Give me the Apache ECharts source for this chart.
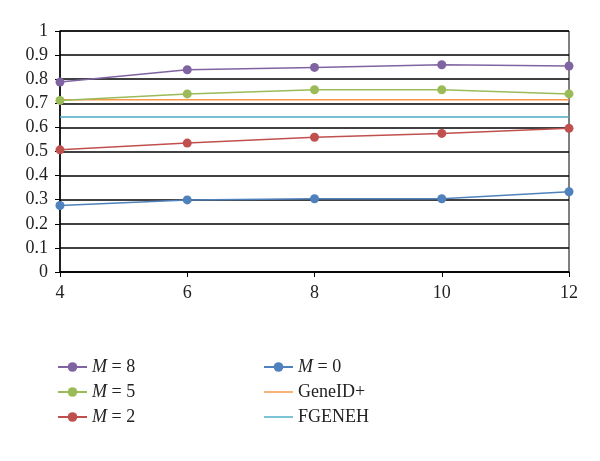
<!DOCTYPE html>
<html><head><meta charset="utf-8">
<script src="https://cdn.jsdelivr.net/npm/echarts@6/dist/echarts.min.js"></script>
<style>html,body{margin:0;padding:0;background:#fff}#c{width:600px;height:461px}</style>
</head><body><div id="c"></div>
<script>
const xValues = [4, 6, 8, 10, 12];
const m8 = [0.788, 0.839, 0.849, 0.860, 0.855];
const m5 = [0.712, 0.739, 0.756, 0.756, 0.739];
const m2 = [0.507, 0.535, 0.559, 0.575, 0.596];
const m0 = [0.276, 0.299, 0.304, 0.304, 0.333];
const geneid = [0.715, 0.715, 0.715, 0.715, 0.715];
const fgeneh = [0.643, 0.643, 0.643, 0.643, 0.643];
const names = ['M = 8', 'M = 5', 'M = 2', 'M = 0', 'GeneID+', 'FGENEH'];
const colors = ['#8064A2', '#9BBB59', '#C0504D', '#4F81BD', '#F79646', '#4BACC6'];
const allData = [m8, m5, m2, m0, geneid, fgeneh];
const font = '"Liberation Serif", "DejaVu Serif", serif';

const chart = echarts.init(document.getElementById('c'));
const series = allData.map((d, i) => ({
  name: names[i],
  type: 'line',
  data: xValues.map((x, j) => [x, d[j]]),
  symbol: i < 4 ? 'circle' : 'none',
  symbolSize: 9,
  showSymbol: i < 4,
  lineStyle: { color: colors[i], width: 1.5 },
  itemStyle: { color: colors[i] },
  z: 10 - i
}));
const lineIcon = 'path://M0,0 L30,0 L30,1.5 L0,1.5 Z';
const legendItems = names.map((n, i) => i < 4 ? { name: n } : { name: n, icon: lineIcon });
const legendFmt = n => n.startsWith('M') ? '{i|M}' + n.slice(1) : n;
const legendText = { fontFamily: font, fontSize: 18, color: '#222', rich: { i: { fontFamily: font, fontSize: 18, fontStyle: 'italic', color: '#222' } } };
chart.setOption({
  animation: false,
  grid: { left: 60, right: 31, top: 31, bottom: 189, show: true, borderColor: '#000', borderWidth: 1 },
  xAxis: {
    type: 'value', min: 4, max: 12, interval: 2,
    axisLine: { lineStyle: { color: '#000', width: 1.5 } },
    axisTick: { show: true, length: 5, lineStyle: { color: '#000' } },
    axisLabel: { fontFamily: font, fontSize: 18, color: '#222', margin: 12 },
    splitLine: { show: false }
  },
  yAxis: {
    type: 'value', min: 0, max: 1, interval: 0.1,
    axisLine: { show: true, lineStyle: { color: '#000', width: 1.5 } },
    axisTick: { show: true, length: 5, lineStyle: { color: '#000' } },
    axisLabel: { fontFamily: font, fontSize: 18, color: '#222', margin: 12, formatter: v => String(Math.round(v * 10) / 10) },
    splitLine: { show: true, lineStyle: { color: '#000', width: 1.5 } }
  },
  legend: [
    { data: legendItems.slice(0, 3), orient: 'vertical', left: 52, top: 353, itemGap: 7, itemWidth: 29, itemHeight: 12, formatter: legendFmt, textStyle: legendText },
    { data: legendItems.slice(3), orient: 'vertical', left: 258, top: 353, itemGap: 7, itemWidth: 29, itemHeight: 12, formatter: legendFmt, textStyle: legendText }
  ],
  series: series
});
</script></body></html>
